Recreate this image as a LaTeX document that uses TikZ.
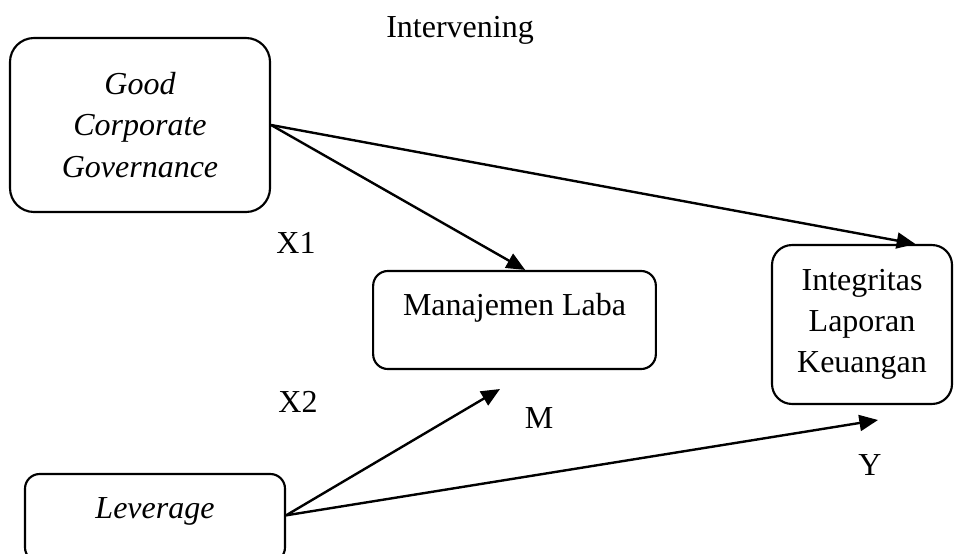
\documentclass[tikz,border=0pt]{standalone}
\usepackage{fontspec}
\setmainfont{Liberation Serif}
\usetikzlibrary{arrows.meta}
\tikzset{
  varbox/.style={draw, line width=0.8pt, align=center,
    font=\fontsize{12}{15.5}\selectfont},
  tag/.style={font=\fontsize{12}{15.5}\selectfont},
  link/.style={-{Triangle[length=7pt,width=6pt]}, line width=0.9pt}
}
\begin{document}
\begin{tikzpicture}[x=0.375pt, y=-0.375pt]
  \useasboundingbox (0,0) rectangle (954,553);
  \clip (0,0) rectangle (954,553);
  \node[varbox, font={\fontsize{12}{15.5}\selectfont\itshape},
    minimum width=97.5pt, minimum height=65.25pt, rounded corners=9pt]
    (gcg) at (140,125) {Good\\Corporate\\Governance};
  \node[varbox, minimum width=106pt, minimum height=36.75pt,
    rounded corners=5.5pt, text height=8.5pt, text depth=12pt]
    (mgmt) at (514.5,320) {Manajemen Laba};
  \node[varbox, minimum width=67.5pt, minimum height=59.6pt,
    rounded corners=7.5pt]
    (integ) at (862,324.5) {Integritas\\Laporan\\Keuangan};
  \node[varbox, font={\fontsize{12}{15.5}\selectfont\itshape},
    minimum width=97.5pt, minimum height=33pt, rounded corners=5.5pt,
    text height=8.5pt, text depth=8pt]
    (lev) at (155,518) {Leverage};
  \node[tag] (title) at (460,30) {Intervening};
  \node[tag] (x1) at (296,243) {X1};
  \node[tag] (x2) at (298,402) {X2};
  \node[tag] (m) at (539,418) {M};
  \node[tag] (y) at (870,465) {Y};
  \coordinate (m-in) at (500,389);
  \coordinate (y-in) at (878,420);
  \begin{scope}[link]
    \draw (gcg.east) to ([xshift=4pt]mgmt.north);
    \draw (gcg.east) to ([xshift=20pt]integ.north);
    \draw ([yshift=1pt]lev.east) to (m-in);
    \draw ([yshift=1pt]lev.east) to (y-in);
  \end{scope}
\end{tikzpicture}
\end{document}
